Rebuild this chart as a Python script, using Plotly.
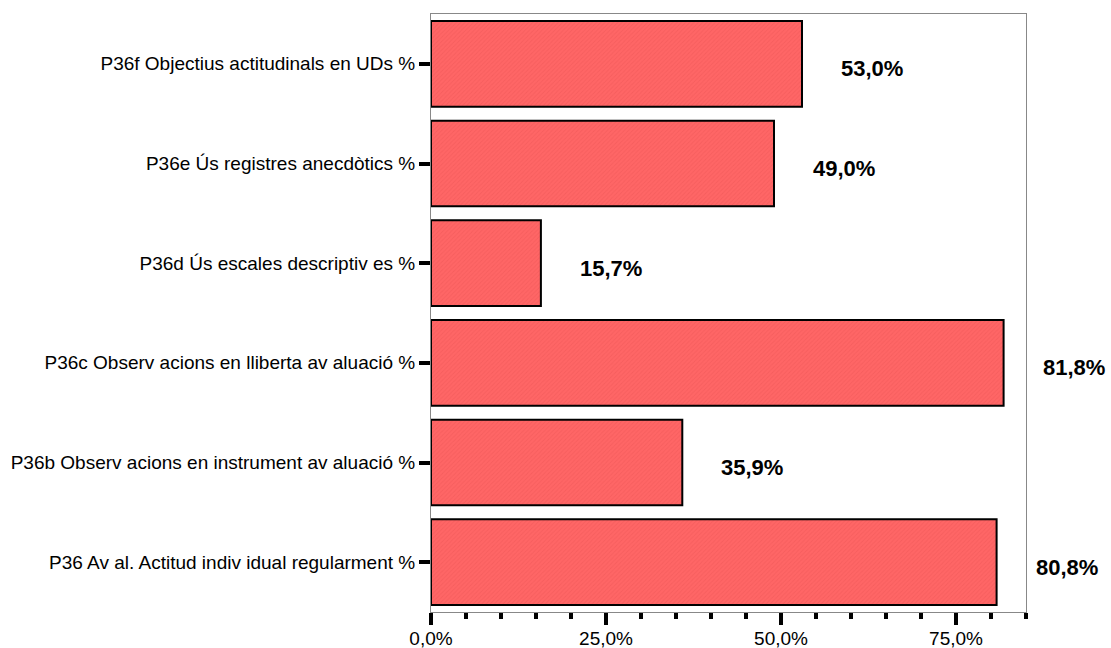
import plotly.graph_objects as go

# Items, listed bottom to top
categories = [
    "P36 Av al. Actitud indiv idual regularment %",
    "P36b Observ acions en instrument av aluació %",
    "P36c Observ acions en lliberta av aluació %",
    "P36d Ús escales descriptiv es %",
    "P36e Ús registres anecdòtics %",
    "P36f Objectius actitudinals en UDs %",
]
values = [80.8, 35.9, 81.8, 15.7, 49.0, 53.0]
value_labels = ["80,8%", "35,9%", "81,8%", "15,7%", "49,0%", "53,0%"]

tick_values = [0, 25, 50, 75]
tick_labels = ["0,0%", "25,0%", "50,0%", "75,0%"]

FONT = "Liberation Sans, Arial, sans-serif"

fig = go.Figure()
fig.add_trace(go.Bar(
    x=values,
    y=categories,
    orientation="h",
    marker=dict(
        color="#FF6363",
        line=dict(color="black", width=2),
        pattern=dict(shape="/", size=3, solidity=0.3,
                     fgcolor="#EC5656", bgcolor="#FF6666"),
    ),
    showlegend=False,
    hoverinfo="skip",
))

for cat, v, lab in zip(categories, values, value_labels):
    fig.add_annotation(
        x=v, y=cat, text=lab, showarrow=False,
        xanchor="center", yanchor="middle", xshift=70, yshift=-5,
        font=dict(family=FONT, size=22, color="black", weight="bold"),
    )

fig.update_layout(
    width=1111, height=648,
    margin=dict(l=431, r=85, t=14, b=36),
    paper_bgcolor="white", plot_bgcolor="white",
    bargap=0.14,
    font=dict(family=FONT, size=19, color="black"),
)
fig.update_xaxes(
    range=[0, 85], tickvals=tick_values, ticktext=tick_labels,
    ticks="outside", ticklen=12, tickwidth=4, tickcolor="black",
    minor=dict(dtick=5, tick0=0, ticks="outside", ticklen=6, tickwidth=4, tickcolor="black"),
    showgrid=False, zeroline=False,
    showline=True, linecolor="#888888", linewidth=1, mirror=True,
    tickfont=dict(size=19), automargin=False, ticklabelstandoff=-3, fixedrange=True,
)
fig.update_yaxes(
    ticks="outside", ticklen=11, tickwidth=4, tickcolor="black",
    showgrid=False, zeroline=False,
    showline=True, linecolor="#888888", linewidth=1, mirror=True,
    tickfont=dict(size=19), automargin=False, range=[-0.5, 5.5], fixedrange=True,
)

fig.write_html("out.html")
